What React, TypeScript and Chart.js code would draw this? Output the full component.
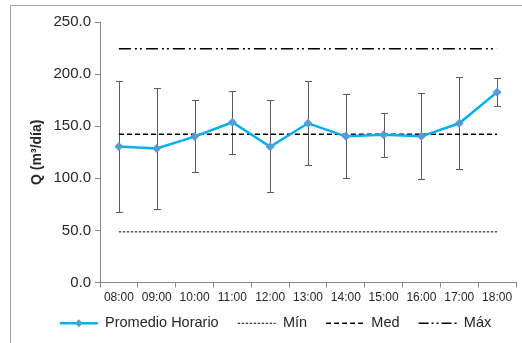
import React, { useEffect, useRef } from "react";
import { Chart, registerables } from "chart.js";
Chart.register(...registerables);

const hours = ["08:00", "09:00", "10:00", "11:00", "12:00", "13:00", "14:00", "15:00", "16:00", "17:00", "18:00"];
const promedio = [130.6, 128.7, 140.0, 153.8, 130.3, 152.8, 140.3, 141.9, 140.3, 152.8, 182.7];
const errHigh = [193.0, 186.6, 175.0, 184.0, 174.7, 193.7, 180.5, 162.5, 182.0, 197.2, 196.6];
const errLow = [67.9, 70.8, 106.2, 123.0, 86.6, 112.3, 100.7, 120.7, 99.4, 109.4, 169.0];
const minLevel = 48.6;
const medLevel = 142.2;
const maxLevel = 224.4;
const yTicks = [0, 50, 100, 150, 200, 250];
const seriesNames = ["Promedio Horario", "Mín", "Med", "Máx"];

const LINE_BLUE = "#00B0F0";
const MARK_BLUE = "#5B9BD5";
const AXIS_GRAY = "#868686";
const TEXT = "#262626";
const FONT = "'Liberation Sans', Arial, sans-serif";
const DASH_MIN = [2.5, 1.5];
const DASH_MED = [5, 3];
const DASH_MAX = [12, 4, 2, 3, 2, 4];

const errorBarPlugin = {
  id: "errorBars",
  beforeDatasetsDraw(chart: any) {
    const meta = chart.getDatasetMeta(0);
    const y = chart.scales.y;
    const ctx = chart.ctx;
    ctx.save();
    ctx.strokeStyle = "#5a5a5a";
    ctx.lineWidth = 1;
    meta.data.forEach((pt: any, i: number) => {
      const x = Math.round(pt.x) + 0.5;
      const yh = Math.round(y.getPixelForValue(errHigh[i])) + 0.5;
      const yl = Math.round(y.getPixelForValue(errLow[i])) + 0.5;
      ctx.beginPath();
      ctx.moveTo(x, yh);
      ctx.lineTo(x, yl);
      ctx.moveTo(x - 3.5, yh);
      ctx.lineTo(x + 3.5, yh);
      ctx.moveTo(x - 3.5, yl);
      ctx.lineTo(x + 3.5, yl);
      ctx.stroke();
    });
    ctx.restore();
  },
};

// shifts the legend box a little so it sits where the original one does
const legendShiftPlugin = {
  id: "legendShift",
  afterLayout(chart: any) {
    const lg = chart.legend;
    if (!lg) return;
    lg.left += 3;
    lg.right += 3;
    lg.top += 2;
    lg.bottom += 2;
  },
};

const legendMarkerPlugin = {
  id: "legendMarker",
  afterDraw(chart: any) {
    const lg = chart.legend;
    if (!lg || !lg.legendHitBoxes || !lg.legendHitBoxes.length) return;
    const hb = lg.legendHitBoxes[0];
    const boxW = lg.options.labels.pointStyleWidth;
    const fs = lg.options.labels.font.size;
    const cx = hb.left + boxW / 2;
    const cy = hb.top + fs / 2;
    const ctx = chart.ctx;
    ctx.save();
    ctx.fillStyle = MARK_BLUE;
    ctx.beginPath();
    ctx.moveTo(cx, cy - 4);
    ctx.lineTo(cx + 4, cy);
    ctx.lineTo(cx, cy + 4);
    ctx.lineTo(cx - 4, cy);
    ctx.closePath();
    ctx.fill();
    ctx.restore();
  },
};

export default function App() {
  const ref = useRef<HTMLCanvasElement>(null);
  useEffect(() => {
    if (!ref.current) return;
    const flat = (v: number) => hours.map(() => v);
    const chart = new Chart(ref.current, {
      type: "line",
      data: {
        labels: hours,
        datasets: [
          {
            label: seriesNames[0],
            data: promedio,
            borderColor: LINE_BLUE,
            borderWidth: 2.5,
            pointStyle: "rectRot",
            pointRadius: 4.5,
            pointBackgroundColor: MARK_BLUE,
            pointBorderColor: MARK_BLUE,
            pointBorderWidth: 0,
            tension: 0,
          },
          {
            label: seriesNames[1],
            data: flat(minLevel),
            borderColor: "#000",
            borderWidth: 1,
            borderDash: DASH_MIN,
            pointRadius: 0,
          },
          {
            label: seriesNames[2],
            data: flat(medLevel),
            borderColor: "#000",
            borderWidth: 1.5,
            borderDash: DASH_MED,
            pointRadius: 0,
          },
          {
            label: seriesNames[3],
            data: flat(maxLevel),
            borderColor: "#000",
            borderWidth: 1.5,
            borderDash: DASH_MAX,
            pointRadius: 0,
          },
        ],
      },
      options: {
        responsive: false,
        animation: false,
        devicePixelRatio: 1,
        layout: { padding: { top: 16, left: 18, right: 25, bottom: 7.5 } },
        plugins: {
          tooltip: { enabled: false },
          legend: {
            position: "bottom",
            labels: {
              usePointStyle: true,
              pointStyleWidth: 38,
              padding: 19,
              color: TEXT,
              font: { family: FONT, size: 14.5 },
              generateLabels: () => [
                { text: seriesNames[0], strokeStyle: LINE_BLUE, fillStyle: LINE_BLUE, lineWidth: 2.5, lineDash: [], pointStyle: "line", datasetIndex: 0, fontColor: TEXT },
                { text: seriesNames[1], strokeStyle: "#000", fillStyle: "#000", lineWidth: 1, lineDash: DASH_MIN, pointStyle: "line", datasetIndex: 1, fontColor: TEXT },
                { text: seriesNames[2], strokeStyle: "#000", fillStyle: "#000", lineWidth: 1.5, lineDash: DASH_MED, pointStyle: "line", datasetIndex: 2, fontColor: TEXT },
                { text: seriesNames[3], strokeStyle: "#000", fillStyle: "#000", lineWidth: 1.5, lineDash: [10, 3, 2, 3, 2, 3], pointStyle: "line", datasetIndex: 3, fontColor: TEXT },
              ],
            },
          },
        },
        scales: {
          x: {
            type: "category",
            offset: true,
            afterFit: (s: any) => {
              s.height = 12.5;
              s._computeLabelArea = () => undefined;
            },
            grid: { display: true, drawOnChartArea: false, drawTicks: true, tickLength: 5, color: AXIS_GRAY, offset: true },
            border: { display: true, color: AXIS_GRAY, width: 1 },
            ticks: {
              color: TEXT,
              padding: 3,
              maxRotation: 0,
              autoSkip: false,
              font: { family: FONT, size: 12 },
            },
          },
          y: {
            min: yTicks[0],
            max: yTicks[yTicks.length - 1],
            afterFit: (s: any) => { s.width = 71; },
            afterBuildTicks: (s: any) => { s.ticks = yTicks.map((v) => ({ value: v })); },
            grid: { display: true, drawOnChartArea: false, drawTicks: true, tickLength: 5, color: AXIS_GRAY },
            border: { display: true, color: AXIS_GRAY, width: 1 },
            ticks: {
              color: TEXT,
              padding: 4,
              font: { family: FONT, size: 15 },
              callback: (v: any) => Number(v).toFixed(1),
            },
            title: {
              display: true,
              text: "Q (m³/día)",
              color: TEXT,
              padding: 0,
              font: { family: FONT, size: 14, weight: "bold" },
            },
          },
        },
      },
      plugins: [errorBarPlugin, legendShiftPlugin, legendMarkerPlugin],
    });
    return () => chart.destroy();
  }, []);

  return (
    <div>
      <div
        style={{
          position: "fixed",
          left: 10,
          top: 5,
          width: 560,
          height: 400,
          border: "1px solid #a6a6a6",
          background: "#fff",
        }}
      />
      <canvas
        ref={ref}
        width={530}
        height={340}
        style={{ position: "fixed", left: 11, top: 6, width: 530, height: 340 }}
      />
    </div>
  );
}
